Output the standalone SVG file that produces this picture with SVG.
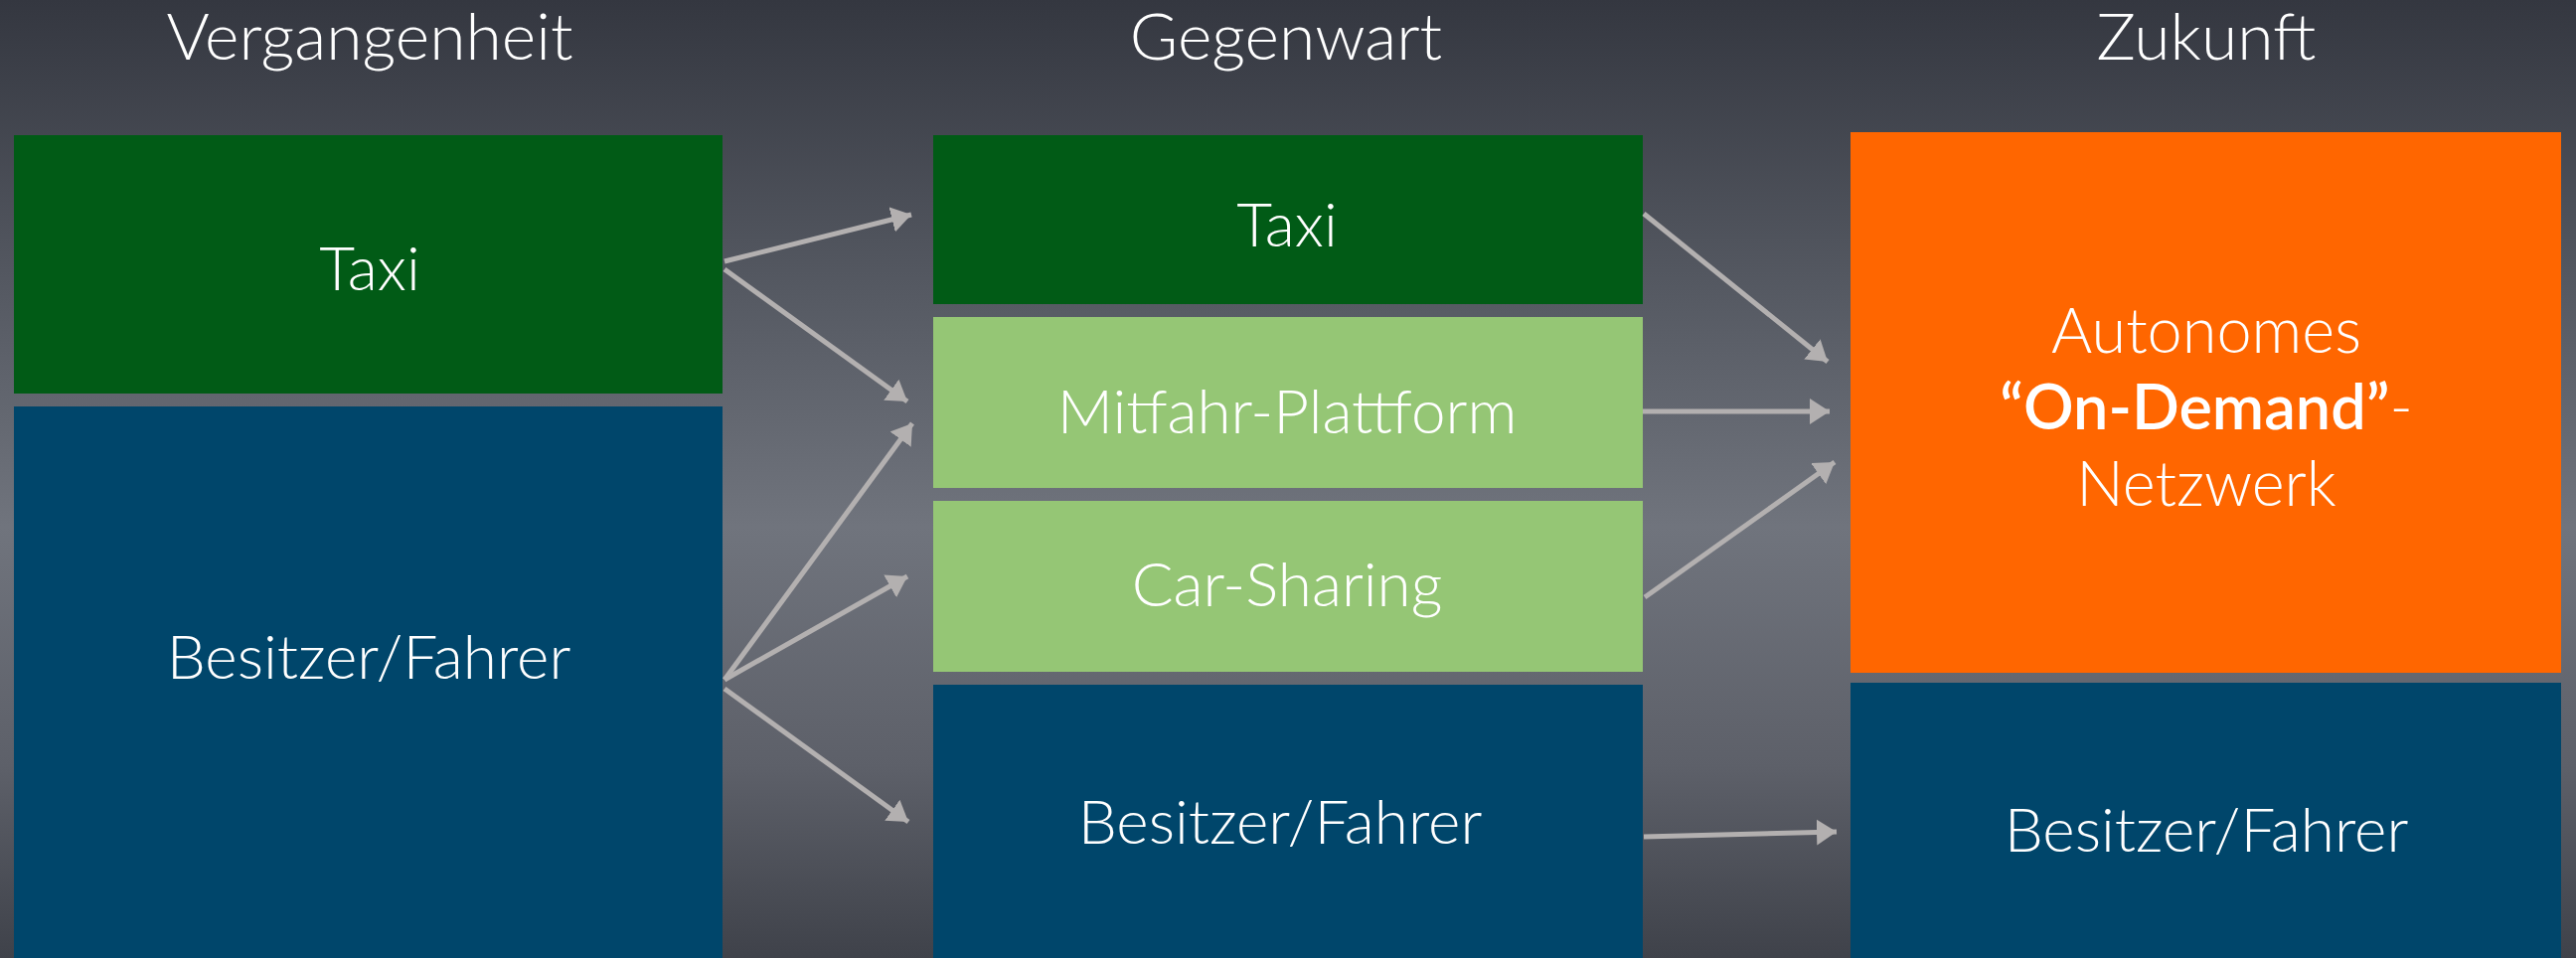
<svg xmlns="http://www.w3.org/2000/svg" width="2592" height="964" viewBox="0 0 2592 964">
<defs>
<linearGradient id="bg" x1="0" y1="0" x2="0" y2="1">
<stop offset="0" stop-color="#343740"/>
<stop offset="0.3" stop-color="#555962"/>
<stop offset="0.55" stop-color="#70747d"/>
<stop offset="0.8" stop-color="#5d6069"/>
<stop offset="1" stop-color="#3f424a"/>
</linearGradient>
<marker id="ah" markerUnits="userSpaceOnUse" markerWidth="24" markerHeight="30" refX="20" refY="13" orient="auto" viewBox="0 0 24 30">
<path d="M0,0 L20,13 L0,26 Z" fill="#b3b0b0"/>
</marker>
<style>
.t{font-family:"Lato","Open Sans","Liberation Sans",sans-serif;font-weight:300;fill:#ffffff;text-anchor:middle}
.h{font-size:66px}
.b{font-size:62px}
.o{font-size:63px}
.dg{fill:#015b16}
.lg{fill:#95c675}
.bl{fill:#00466b}
.or{fill:#ff6600}
.c{stroke:#b3b0b0;stroke-width:5;fill:none;marker-end:url(#ah)}
</style>
</defs>
<rect x="0" y="0" width="2592" height="964" fill="url(#bg)"/>
<g id="headers">
<text class="t h" x="372" y="60">Vergangenheit</text>
<text class="t h" x="1294" y="60">Gegenwart</text>
<text class="t h" x="2220" y="60">Zukunft</text>
</g>
<g id="past-taxi"><rect class="dg" x="14" y="136" width="713" height="260"/><text class="t b" x="372" y="292">Taxi</text></g>
<g id="past-owner"><rect class="bl" x="14" y="409" width="713" height="555"/><text class="t b" x="371" y="683">Besitzer/Fahrer</text></g>
<g id="present-taxi"><rect class="dg" x="939" y="136" width="714" height="170"/><text class="t b" x="1295" y="248">Taxi</text></g>
<g id="present-ride"><rect class="lg" x="939" y="319" width="714" height="172"/><text class="t b" x="1295" y="436">Mitfahr-Plattform</text></g>
<g id="present-carsharing"><rect class="lg" x="939" y="504" width="714" height="172"/><text class="t b" x="1295" y="610">Car-Sharing</text></g>
<g id="present-owner"><rect class="bl" x="939" y="689" width="714" height="275"/><text class="t b" x="1288" y="849">Besitzer/Fahrer</text></g>
<g id="future-network"><rect class="or" x="1862" y="133" width="715" height="544"/>
<text class="t o" x="2220" y="355">Autonomes</text>
<text class="t o" x="2220" y="432"><tspan font-weight="600">“On-Demand”</tspan>-</text>
<text class="t o" x="2220" y="509">Netzwerk</text>
</g>
<g id="future-owner"><rect class="bl" x="1862" y="687" width="715" height="277"/><text class="t b" x="2220" y="857">Besitzer/Fahrer</text></g>
<g id="connectors">
<line class="c" x1="729" y1="263" x2="917" y2="216"/>
<line class="c" x1="729" y1="271" x2="913" y2="404"/>
<line class="c" x1="729" y1="684" x2="918" y2="426"/>
<line class="c" x1="729" y1="684" x2="913" y2="580"/>
<line class="c" x1="729" y1="693" x2="914" y2="827"/>
<line class="c" x1="1654" y1="215" x2="1839" y2="364"/>
<line class="c" x1="1653" y1="414" x2="1841" y2="414"/>
<line class="c" x1="1655" y1="601" x2="1846" y2="465"/>
<line class="c" x1="1654" y1="842" x2="1848" y2="837"/>
</g>
</svg>
